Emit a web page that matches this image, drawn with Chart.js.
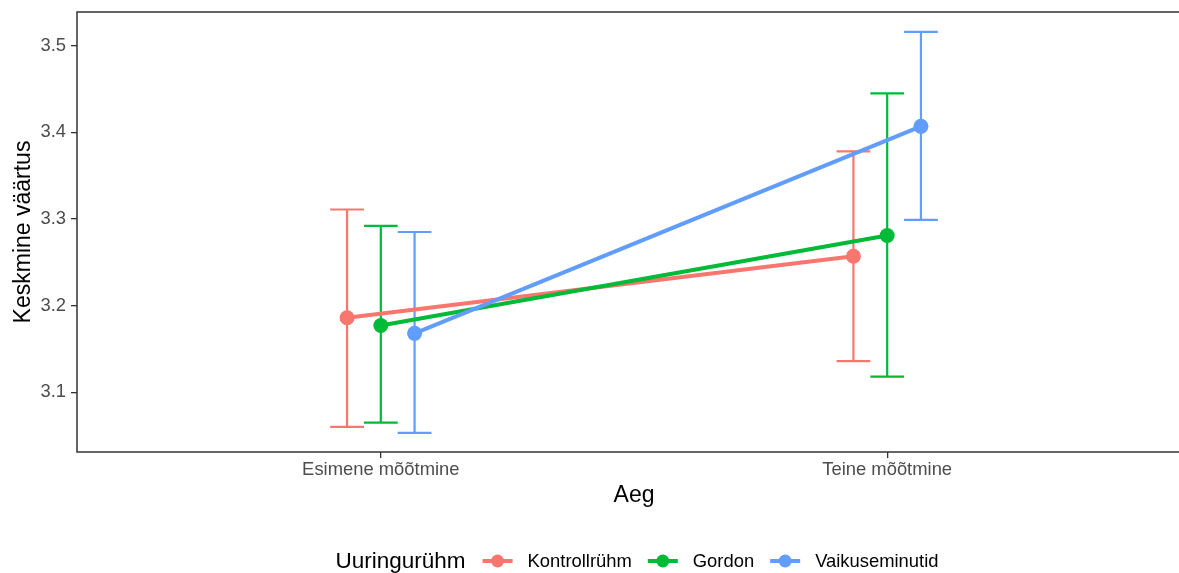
<!DOCTYPE html>
<html><head><meta charset="utf-8">
<script src="https://cdn.jsdelivr.net/npm/chart.js@4"></script>
<style>
html,body{margin:0;padding:0;background:#fff;overflow:hidden;}
#wrap{position:relative;width:1200px;height:573px;}
</style></head><body>
<div id="wrap"><canvas id="c" width="1200" height="573" style="width:1200px;height:573px"></canvas></div>
<script>
const categories = ['Esimene mõõtmine', 'Teine mõõtmine'];
const groups = ['Kontrollrühm', 'Gordon', 'Vaikuseminutid'];
const groupColors = ['#F8766D', '#00BA38', '#619CFF'];
const kontrollMean = [3.186, 3.257];
const kontrollLow  = [3.060, 3.136];
const kontrollHigh = [3.311, 3.378];
const gordonMean = [3.177, 3.281];
const gordonLow  = [3.065, 3.118];
const gordonHigh = [3.292, 3.445];
const vaikusMean = [3.168, 3.407];
const vaikusLow  = [3.053, 3.299];
const vaikusHigh = [3.285, 3.516];
const yTicks = [3.1, 3.2, 3.3, 3.4, 3.5];
const xTitle = 'Aeg';
const yTitle = 'Keskmine väärtus';
const legendTitle = 'Uuringurühm';

const means = [kontrollMean, gordonMean, vaikusMean];
const lows = [kontrollLow, gordonLow, vaikusLow];
const highs = [kontrollHigh, gordonHigh, vaikusHigh];

const FAMILY = "'Liberation Sans', Arial, Helvetica, sans-serif";
Chart.defaults.font.family = FAMILY;

const dodgeWidth = 0.2;
const step = dodgeWidth / groups.length;
function xPos(g, c) { return (c + 1) + (g - (groups.length - 1) / 2) * step; }

const datasets = [];
groups.forEach((name, g) => {
  const pts = categories.map((cat, c) => ({ x: xPos(g, c), y: means[g][c] }));
  datasets.push({
    label: name, data: pts, showLine: true, borderColor: groupColors[g],
    borderWidth: 4, pointRadius: 0, fill: false, order: 6 - g
  });
  datasets.push({
    label: name + ' pts', data: pts, showLine: false, backgroundColor: groupColors[g],
    borderWidth: 0, pointRadius: 7.5, pointBorderWidth: 0, order: 3 - g
  });
});

const errorBars = {
  id: 'errorBars',
  beforeDatasetsDraw(chart) {
    const { ctx, scales: { x, y }, chartArea } = chart;
    ctx.save();
    ctx.beginPath();
    ctx.rect(chartArea.left, chartArea.top, chartArea.right - chartArea.left, chartArea.bottom - chartArea.top);
    ctx.clip();
    ctx.lineWidth = 2.2;
    ctx.lineCap = 'butt';
    groups.forEach((name, g) => {
      ctx.strokeStyle = groupColors[g];
      categories.forEach((cat, c) => {
        const xv = xPos(g, c);
        const px = x.getPixelForValue(xv);
        const half = x.getPixelForValue(xv + step / 2) - px;
        const yl = y.getPixelForValue(lows[g][c]);
        const yh = y.getPixelForValue(highs[g][c]);
        ctx.beginPath();
        ctx.moveTo(px, yl); ctx.lineTo(px, yh);
        ctx.moveTo(px - half, yl); ctx.lineTo(px + half, yl);
        ctx.moveTo(px - half, yh); ctx.lineTo(px + half, yh);
        ctx.stroke();
      });
    });
    ctx.restore();
  }
};

const panelBorder = {
  id: 'panelBorder',
  afterDraw(chart) {
    const { ctx, chartArea: a } = chart;
    ctx.save();
    ctx.strokeStyle = '#333333';
    ctx.lineWidth = 1.5;
    ctx.strokeRect(a.left, a.top, a.right - a.left, a.bottom - a.top);
    ctx.restore();
  }
};

const customLegend = {
  id: 'customLegend',
  afterDraw(chart) {
    const ctx = chart.ctx;
    const cy = 561;
    const titleFont = '22.5px ' + FAMILY;
    const labelFont = '18.4px ' + FAMILY;
    const glyphW = 30, gapTitle = 17, gapGlyph = 15, gapItem = 16;
    ctx.save();
    ctx.font = titleFont;
    const tw = ctx.measureText(legendTitle).width;
    ctx.font = labelFont;
    const lws = groups.map(n => ctx.measureText(n).width);
    let total = tw + gapTitle;
    lws.forEach((w, i) => { total += glyphW + gapGlyph + w + (i < lws.length - 1 ? gapItem : 0); });
    let xs = 637 - total / 2;
    ctx.textBaseline = 'middle';
    ctx.textAlign = 'left';
    ctx.fillStyle = '#000';
    ctx.font = titleFont;
    ctx.fillText(legendTitle, xs, cy + 1);
    xs += tw + gapTitle;
    groups.forEach((n, i) => {
      ctx.strokeStyle = groupColors[i];
      ctx.fillStyle = groupColors[i];
      ctx.lineWidth = 4;
      ctx.beginPath();
      ctx.moveTo(xs, cy); ctx.lineTo(xs + glyphW, cy);
      ctx.stroke();
      ctx.beginPath();
      ctx.arc(xs + glyphW / 2, cy, 6.5, 0, Math.PI * 2);
      ctx.fill();
      xs += glyphW + gapGlyph;
      ctx.fillStyle = '#000';
      ctx.font = labelFont;
      ctx.fillText(n, xs, cy + 1);
      xs += lws[i] + gapItem;
    });
    ctx.restore();
  }
};

new Chart(document.getElementById('c'), {
  type: 'line',
  data: { datasets },
  plugins: [errorBars, panelBorder, customLegend],
  options: {
    responsive: false,
    animation: false,
    layout: { padding: { top: 12, right: 9, bottom: 51, left: 0 } },
    plugins: { legend: { display: false }, tooltip: { enabled: false } },
    scales: {
      x: {
        type: 'linear', min: 0.4, max: 2.6,
        afterBuildTicks: s => { s.ticks = categories.map((c, i) => ({ value: i + 1 })); },
        afterFit: s => { s.height = 70; s.paddingLeft = 0; s.paddingRight = 0; },
        ticks: {
          callback: v => categories[Math.round(v) - 1] || '',
          font: { size: 18.4 }, color: '#4D4D4D', padding: 1,
          maxRotation: 0, autoSkip: false
        },
        grid: { drawOnChartArea: false, drawTicks: true, tickLength: 6, color: '#333333', lineWidth: 1.3 },
        border: { display: false },
        title: { display: true, text: xTitle, color: '#000', font: { size: 23 }, padding: { top: 0, bottom: 13 } }
      },
      y: {
        type: 'linear', min: 3.031, max: 3.539,
        afterBuildTicks: s => { s.ticks = yTicks.map(v => ({ value: v })); },
        afterFit: s => { s.width = 77; s.paddingTop = 0; s.paddingBottom = 0; },
        ticks: {
          callback: v => Number(v).toFixed(1),
          font: { size: 18.4 }, color: '#4D4D4D', padding: 5
        },
        grid: { drawOnChartArea: false, drawTicks: true, tickLength: 6, color: '#333333', lineWidth: 1.3 },
        border: { display: false },
        title: { display: true, text: yTitle, color: '#000', font: { size: 23 }, padding: { top: 10, bottom: 0 } }
      }
    }
  }
});
</script>
</body></html>
